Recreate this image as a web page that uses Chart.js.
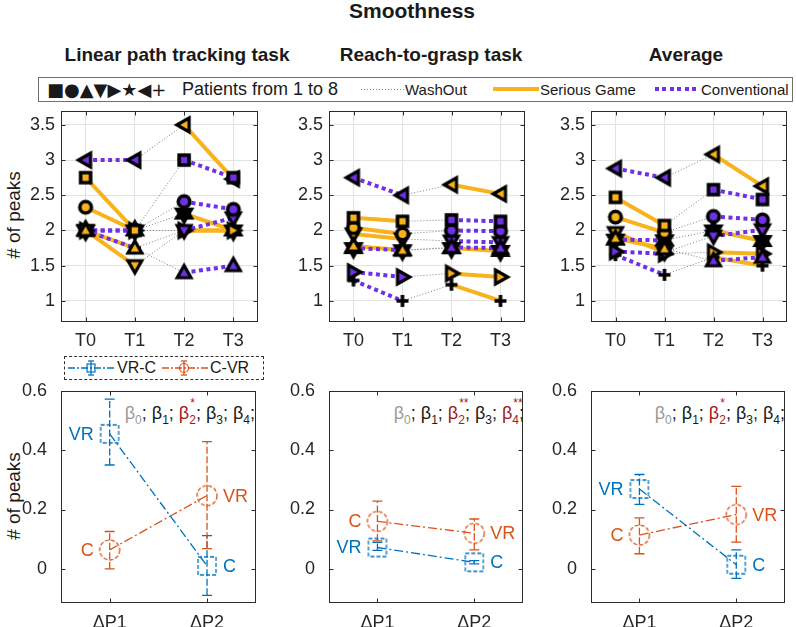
<!DOCTYPE html>
<html><head><meta charset="utf-8">
<script src="https://cdn.jsdelivr.net/npm/chart.js@4/dist/chart.umd.min.js"></script>
<style>
body{margin:0;background:#fff;width:796px;height:627px;position:relative;overflow:hidden;font-family:"Liberation Sans",Arial,Helvetica,sans-serif;color:#1a1a1a;}
.abs{position:absolute;white-space:nowrap;}
canvas{position:absolute;}
.ctr{transform:translate(-50%,-50%);}
.sub{font-size:12px;position:relative;top:5px;}
.stk{display:inline-block;position:relative;}
.stk .sp{position:absolute;left:1px;top:-7px;font-size:12px;}
.stk .sb{font-size:12px;position:relative;top:5px;}
.beta{font-size:18px;}
.gray{color:#9a9a9a;}
.red{color:#9e1b1b;}
</style></head><body>

<div class="abs ctr" style="left:412px;top:11px;font-weight:bold;font-size:21px;">Smoothness</div>
<div class="abs ctr" style="left:177px;top:55px;font-weight:bold;font-size:19px;">Linear path tracking task</div>
<div class="abs ctr" style="left:431px;top:55px;font-weight:bold;font-size:19px;">Reach-to-grasp task</div>
<div class="abs ctr" style="left:686px;top:55px;font-weight:bold;font-size:19px;">Average</div>

<!-- top legend -->
<div class="abs" style="left:38px;top:77px;width:753px;height:23px;border:1px solid #6e6e6e;"></div>
<div class="abs" style="left:47px;top:89px;transform:translateY(-50%);font-family:'DejaVu Sans';font-size:18px;">■●▲▼▶★◀+</div>
<div class="abs" style="left:182px;top:89px;transform:translateY(-50%);font-size:18px;">Patients from 1 to 8</div>
<div class="abs" style="left:361px;top:89px;width:43px;height:1px;background:repeating-linear-gradient(90deg,#8a8a8a 0 1px,transparent 1px 3px);"></div>
<div class="abs" style="left:405px;top:89px;transform:translateY(-50%);font-size:15px;">WashOut</div>
<div class="abs" style="left:493px;top:87px;width:46px;height:4px;background:#F8B21C;"></div>
<div class="abs" style="left:540px;top:89px;transform:translateY(-50%);font-size:15px;">Serious Game</div>
<div class="abs" style="left:655px;top:87px;width:45px;height:4px;background:repeating-linear-gradient(90deg,#7030E6 0 4px,transparent 4px 7.5px);"></div>
<div class="abs" style="left:701px;top:89px;transform:translateY(-50%);font-size:15px;">Conventional</div>

<!-- bottom legend -->
<div class="abs" style="left:64px;top:356px;width:198px;height:22px;border:1px dashed #333;"></div>
<svg class="abs" style="left:66px;top:357px" width="50" height="22">
  <line x1="2" y1="11" x2="48" y2="11" stroke="#0072BD" stroke-width="1.3" stroke-dasharray="7,2,2,2"/>
  <line x1="25" y1="4" x2="25" y2="18" stroke="#0072BD" stroke-width="1.3"/>
  <line x1="22" y1="4" x2="28" y2="4" stroke="#0072BD" stroke-width="1.3"/>
  <line x1="22" y1="18" x2="28" y2="18" stroke="#0072BD" stroke-width="1.3"/>
  <rect x="21" y="7" width="8" height="8" fill="none" stroke="#0072BD" stroke-width="1.2"/>
</svg>
<div class="abs" style="left:117px;top:368px;transform:translateY(-50%);font-size:16px;">VR-C</div>
<svg class="abs" style="left:160px;top:357px" width="50" height="22">
  <line x1="2" y1="11" x2="48" y2="11" stroke="#D95319" stroke-width="1.3" stroke-dasharray="7,2,2,2"/>
  <line x1="24" y1="4" x2="24" y2="18" stroke="#D95319" stroke-width="1.3"/>
  <line x1="21" y1="4" x2="27" y2="4" stroke="#D95319" stroke-width="1.3"/>
  <line x1="21" y1="18" x2="27" y2="18" stroke="#D95319" stroke-width="1.3"/>
  <circle cx="24" cy="11" r="4.5" fill="none" stroke="#D95319" stroke-width="1.2"/>
</svg>
<div class="abs" style="left:210px;top:368px;transform:translateY(-50%);font-size:16px;">C-VR</div>

<!-- y labels -->
<div class="abs" style="left:14px;top:215px;transform:translate(-50%,-50%) rotate(-90deg);font-size:19px;"># of peaks</div>
<div class="abs" style="left:14px;top:496px;transform:translate(-50%,-50%) rotate(-90deg);font-size:19px;"># of peaks</div>

<!-- beta annotations -->
<div class="abs beta" style="right:541px;top:413px;transform:translateY(-50%);"><span class="gray">β<span class="sub">0</span></span>; β<span class="sub">1</span>; <span class="red">β<span class="stk"><span class="sp">*</span><span class="sb">2</span></span></span>; β<span class="sub">3</span>; β<span class="sub">4</span>;</div>
<div class="abs beta" style="right:272px;top:413px;transform:translateY(-50%);"><span class="gray">β<span class="sub">0</span></span>; β<span class="sub">1</span>; <span class="red">β<span class="stk"><span class="sp">**</span><span class="sb">2</span></span></span>; β<span class="sub">3</span>; <span class="red">β<span class="stk"><span class="sp">**</span><span class="sb">4</span></span></span>;</div>
<div class="abs beta" style="right:11px;top:413px;transform:translateY(-50%);"><span class="gray">β<span class="sub">0</span></span>; β<span class="sub">1</span>; <span class="red">β<span class="stk"><span class="sp">*</span><span class="sb">2</span></span></span>; β<span class="sub">3</span>; β<span class="sub">4</span>;</div>

<script>
// ---------------- DATA ----------------
const timeLabels = ['T0', 'T1', 'T2', 'T3'];
const deltaLabels = ['ΔP1', 'ΔP2'];
const topYTicks = [1, 1.5, 2, 2.5, 3, 3.5];
const bottomYTicks = [0, 0.2, 0.4, 0.6];

// patients 1..8
const patientMarkers = ['square', 'circle', 'triUp', 'triDown', 'triRight', 'hexagram', 'triLeft', 'plus'];
const seriousGameFirst = [true, true, true, true, false, false, false, false];

// # of peaks at T0..T3 for each patient
const linearTask = [
  [2.75, 2.00, 3.00, 2.75],
  [2.33, 2.00, 2.41, 2.30],
  [2.00, 1.75, 1.40, 1.50],
  [2.00, 1.50, 2.00, 2.18],
  [2.00, 2.00, 2.00, 2.00],
  [2.00, 2.00, 2.24, 2.00],
  [3.00, 3.00, 3.50, 2.73],
  [2.00, 1.75, 2.00, 2.00]
];
const reachTask = [
  [2.18, 2.13, 2.15, 2.13],
  [2.04, 1.95, 2.00, 1.99],
  [1.78, 1.72, 1.76, 1.75],
  [1.95, 1.88, 1.85, 1.83],
  [1.41, 1.34, 1.39, 1.34],
  [1.75, 1.72, 1.75, 1.71],
  [2.75, 2.50, 2.65, 2.52],
  [1.29, 1.00, 1.23, 1.00]
];
const averageTask = [
  [2.47, 2.07, 2.58, 2.44],
  [2.19, 1.97, 2.20, 2.15],
  [1.89, 1.74, 1.57, 1.62],
  [1.97, 1.69, 1.92, 2.01],
  [1.70, 1.67, 1.69, 1.67],
  [1.87, 1.86, 2.00, 1.85],
  [2.88, 2.75, 3.08, 2.63],
  [1.65, 1.37, 1.62, 1.50]
];

// Delta # of peaks (mean, lower, upper) for VR-C and C-VR groups
const linearVRC = [0.455, 0.010];
const linearVRCLow = [0.350, -0.089];
const linearVRCHigh = [0.572, 0.112];
const linearCVR = [0.064, 0.247];
const linearCVRLow = [0.000, 0.068];
const linearCVRHigh = [0.126, 0.429];

const reachVRC = [0.072, 0.022];
const reachVRCLow = [0.062, 0.017];
const reachVRCHigh = [0.089, 0.028];
const reachCVR = [0.160, 0.120];
const reachCVRLow = [0.094, 0.064];
const reachCVRHigh = [0.228, 0.168];

const averageVRC = [0.269, 0.014];
const averageVRCLow = [0.217, -0.032];
const averageVRCHigh = [0.318, 0.064];
const averageCVR = [0.114, 0.183];
const averageCVRLow = [0.051, 0.090];
const averageCVRHigh = [0.172, 0.278];

// point tags
const vrcTags = ['VR', 'C'];
const cvrTags = ['C', 'VR'];

// ---------------- STYLE ----------------
const SG_COLOR = '#F8B21C', CONV_COLOR = '#7030E6', WASH_COLOR = '#7d7d7d';
const BLUE = '#0072BD', ORANGE = '#D95319';
const AXIS_COLOR = '#2b2b2b', GRID_COLOR = '#e2e2e2';
const FONT = '"Liberation Sans", Arial, sans-serif';

const markerCache = {};
function topMarker(shape, face) {
  const key = shape + face;
  if (markerCache[key]) return markerCache[key];
  const s = 30, c = document.createElement('canvas');
  c.width = s; c.height = s;
  const g = c.getContext('2d');
  g.translate(s / 2, s / 2);
  g.fillStyle = face; g.strokeStyle = '#000'; g.lineJoin = 'miter'; g.miterLimit = 10;
  const tri = (rot) => {
    g.save(); g.rotate(rot); g.beginPath();
    g.moveTo(0, -7.2); g.lineTo(6.9, 5.0); g.lineTo(-6.9, 5.0); g.closePath();
    g.fill(); g.lineWidth = 3.2; g.stroke(); g.restore();
  };
  switch (shape) {
    case 'square': g.beginPath(); g.rect(-5, -5, 10, 10); g.fill(); g.lineWidth = 3.6; g.stroke(); break;
    case 'circle': g.beginPath(); g.arc(0, 0, 5.8, 0, Math.PI * 2); g.fill(); g.lineWidth = 3.6; g.stroke(); break;
    case 'triUp': tri(0); break;
    case 'triDown': tri(Math.PI); break;
    case 'triRight': tri(Math.PI / 2); break;
    case 'triLeft': tri(-Math.PI / 2); break;
    case 'hexagram': {
      g.beginPath();
      for (let k = 0; k < 12; k++) {
        const r = k % 2 === 0 ? 10.5 : 6.0;
        const a = -Math.PI / 2 + k * Math.PI / 6;
        const px = r * Math.cos(a), py = r * Math.sin(a);
        if (k === 0) g.moveTo(px, py); else g.lineTo(px, py);
      }
      g.closePath(); g.fillStyle = '#000'; g.fill(); g.lineWidth = 1.4; g.stroke(); break;
    }
    case 'plus':
      g.lineWidth = 3.6; g.beginPath();
      g.moveTo(-6, 0); g.lineTo(6, 0); g.moveTo(0, -6); g.lineTo(0, 6); g.stroke(); break;
  }
  markerCache[key] = c;
  return c;
}
function hollowMarker(shape, color) {
  const s = 26, c = document.createElement('canvas');
  c.width = s; c.height = s;
  const g = c.getContext('2d');
  g.translate(s / 2, s / 2);
  g.strokeStyle = color; g.lineWidth = 1.3; g.setLineDash([4, 2]);
  g.beginPath();
  if (shape === 'square') g.rect(-9, -9, 18, 18); else g.arc(0, 0, 10, 0, Math.PI * 2);
  g.stroke();
  return c;
}

// box + inward ticks
const boxPlugin = {
  id: 'box',
  beforeDatasetsDraw(chart) {
    const { ctx, chartArea: a, scales } = chart;
    ctx.save();
    ctx.strokeStyle = AXIS_COLOR; ctx.lineWidth = 1;
    const L = Math.round(a.left) + 0.5, R = Math.round(a.right) - 0.5, T = Math.round(a.top) + 0.5, B = Math.round(a.bottom) - 0.5;
    ctx.strokeRect(L, T, R - L, B - T);
    const tl = 4;
    ctx.beginPath();
    scales.x.ticks.forEach((t, i) => {
      const px = Math.round(scales.x.getPixelForTick(i)) + 0.5;
      ctx.moveTo(px, B); ctx.lineTo(px, B - tl);
      ctx.moveTo(px, T); ctx.lineTo(px, T + tl);
    });
    scales.y.ticks.forEach((t, i) => {
      const py = Math.round(scales.y.getPixelForTick(i)) + 0.5;
      ctx.moveTo(L, py); ctx.lineTo(L + tl, py);
      ctx.moveTo(R, py); ctx.lineTo(R - tl, py);
    });
    ctx.stroke();
    ctx.restore();
  }
};

// error bars (from dataset errLow/errHigh through scales)
const errorBarPlugin = {
  id: 'errbars',
  beforeDatasetsDraw(chart) {
    const { ctx, scales } = chart;
    chart.data.datasets.forEach((d) => {
      if (!d.errLow) return;
      d.errLow.forEach((lo, i) => {
        const px = scales.x.getPixelForValue(i);
        const yl = scales.y.getPixelForValue(lo), yh = scales.y.getPixelForValue(d.errHigh[i]);
        ctx.save();
        ctx.strokeStyle = d.borderColor; ctx.lineWidth = 1.3;
        ctx.setLineDash([7, 2.5]);
        ctx.beginPath(); ctx.moveTo(px, yl); ctx.lineTo(px, yh); ctx.stroke();
        ctx.setLineDash([]);
        ctx.beginPath();
        ctx.moveTo(px - 5, yl); ctx.lineTo(px + 5, yl);
        ctx.moveTo(px - 5, yh); ctx.lineTo(px + 5, yh);
        ctx.stroke();
        ctx.restore();
      });
    });
  },
  afterDatasetsDraw(chart) {
    const { ctx, scales } = chart;
    chart.data.datasets.forEach((d) => {
      if (!d.tags) return;
      d.tags.forEach((tag, i) => {
        const px = scales.x.getPixelForValue(i), py = scales.y.getPixelForValue(d.data[i]);
        ctx.save();
        ctx.fillStyle = d.borderColor; ctx.font = '18px ' + FONT; ctx.textBaseline = 'middle';
        if (i === 0) { ctx.textAlign = 'right'; ctx.fillText(tag, px - 16, py + 1); }
        else { ctx.textAlign = 'left'; ctx.fillText(tag, px + 16, py + 1); }
        ctx.restore();
      });
    });
  }
};

function makeCanvas(plot, padL, padT, padR, padB) {
  const L = plot[0] - padL, T = plot[1] - padT;
  const W = plot[2] - L + padR, H = plot[3] - T + padB;
  const cv = document.createElement('canvas');
  cv.width = W; cv.height = H;
  cv.style.left = L + 'px'; cv.style.top = T + 'px';
  cv.style.width = W + 'px'; cv.style.height = H + 'px';
  document.body.appendChild(cv);
  return cv;
}

function scaleOpts(padL, padB, yMin, yMax, yTicks, grid, xPad) {
  return {
    x: {
      type: 'category', offset: true,
      afterFit: s => { s.height = padB; },
      grid: grid ? { display: true, color: GRID_COLOR, drawTicks: false, offset: false, lineWidth: 1 } : { display: false },
      border: { display: false },
      ticks: { font: { family: FONT, size: 18 }, color: '#262626', padding: xPad, maxRotation: 0, autoSkip: false }
    },
    y: {
      type: 'linear', min: yMin, max: yMax,
      afterFit: s => { s.width = padL; },
      afterBuildTicks: s => { s.ticks = yTicks.map(v => ({ value: v })); },
      grid: grid ? { display: true, color: GRID_COLOR, drawTicks: false, lineWidth: 1 } : { display: false },
      border: { display: false },
      ticks: { font: { family: FONT, size: 18 }, color: '#262626', padding: 6, callback: v => String(v) }
    }
  };
}

function topChart(plot, values) {
  const padL = plot[0] > 58 ? 58 : plot[0], padT = 14, padR = 2, padB = 30;
  const cv = makeCanvas(plot, padL, padT, padR, padB);
  const datasets = [];
  values.forEach((v, i) => {
    const sg = seriousGameFirst[i];
    const first = sg ? { c: SG_COLOR, dash: [], order: 2 } : { c: CONV_COLOR, dash: [4, 3.5], order: 1 };
    const second = sg ? { c: CONV_COLOR, dash: [4, 3.5], order: 1 } : { c: SG_COLOR, dash: [], order: 2 };
    datasets.push({ data: [v[0], v[1], null, null], borderColor: first.c, borderDash: first.dash, borderWidth: 4, pointRadius: 0, order: first.order });
    datasets.push({ data: [null, null, v[2], v[3]], borderColor: second.c, borderDash: second.dash, borderWidth: 4, pointRadius: 0, order: second.order });
    datasets.push({ data: [null, v[1], v[2], null], borderColor: WASH_COLOR, borderDash: [1, 2], borderWidth: 1, pointRadius: 0, order: 3 });
    const m = patientMarkers[i];
    datasets.push({
      data: v.slice(), showLine: false, order: 0, pointRadius: 8, pointBorderWidth: 0,
      pointStyle: [topMarker(m, first.c), topMarker(m, first.c), topMarker(m, second.c), topMarker(m, second.c)]
    });
  });
  new Chart(cv, {
    type: 'line',
    data: { labels: timeLabels, datasets },
    options: {
      responsive: false, animation: false, devicePixelRatio: 1, events: [],
      layout: { padding: { left: 0, top: padT, right: padR, bottom: 0 } },
      plugins: { legend: { display: false }, tooltip: { enabled: false } },
      scales: scaleOpts(padL, padB, 0.7, 3.7, topYTicks, true, 8)
    },
    plugins: [boxPlugin]
  });
}

function bottomChart(plot, vrc, vrcLo, vrcHi, cvr, cvrLo, cvrHi) {
  const padL = 58, padT = 14, padR = 2, padB = 627 - plot[3];
  const cv = makeCanvas(plot, padL, padT, padR, padB);
  const datasets = [
    { data: vrc, errLow: vrcLo, errHigh: vrcHi, tags: vrcTags, borderColor: BLUE, borderWidth: 1.3, borderDash: [9, 3, 2, 3],
      pointStyle: hollowMarker('square', BLUE), pointRadius: 9, order: 0 },
    { data: cvr, errLow: cvrLo, errHigh: cvrHi, tags: cvrTags, borderColor: ORANGE, borderWidth: 1.3, borderDash: [9, 3, 2, 3],
      pointStyle: hollowMarker('circle', ORANGE), pointRadius: 9, order: 1 }
  ];
  new Chart(cv, {
    type: 'line',
    data: { labels: deltaLabels, datasets },
    options: {
      responsive: false, animation: false, devicePixelRatio: 1, events: [],
      layout: { padding: { left: 0, top: padT, right: padR, bottom: 0 } },
      plugins: { legend: { display: false }, tooltip: { enabled: false } },
      scales: scaleOpts(padL, padB, -0.115, 0.6, bottomYTicks, false, 1)
    },
    plugins: [boxPlugin, errorBarPlugin]
  });
}

topChart([61, 108, 264, 322], linearTask);
topChart([329, 108, 531, 322], reachTask);
topChart([591, 108, 793, 322], averageTask);
bottomChart([61, 388, 264, 603], linearVRC, linearVRCLow, linearVRCHigh, linearCVR, linearCVRLow, linearCVRHigh);
bottomChart([329, 388, 531, 603], reachVRC, reachVRCLow, reachVRCHigh, reachCVR, reachCVRLow, reachCVRHigh);
bottomChart([591, 388, 793, 603], averageVRC, averageVRCLow, averageVRCHigh, averageCVR, averageCVRLow, averageCVRHigh);
</script>
</body></html>
